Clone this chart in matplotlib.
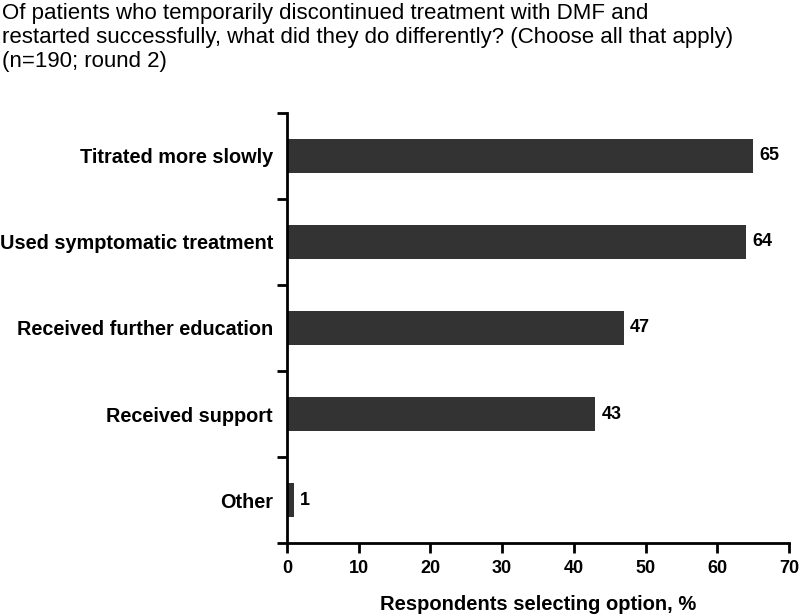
import matplotlib
matplotlib.use("Agg")
import matplotlib.pyplot as plt
import numpy as np

plt.rcParams['font.family'] = ['Liberation Sans', 'DejaVu Sans']

categories = ["Titrated more slowly", "Used symptomatic treatment",
              "Received further education", "Received support", "Other"]
values = [65, 64, 47, 43, 1]
xticks = [0, 10, 20, 30, 40, 50, 60, 70]
title = ("Of patients who temporarily discontinued treatment with DMF and\n"
         "restarted successfully, what did they do differently? (Choose all that apply)\n"
         "(n=190; round 2)")
xlabel = "Respondents selecting option, %"

fig = plt.figure(figsize=(8, 6.14), dpi=100)
ax = fig.add_axes([0.35875, 0.1156, 0.6275, 0.7004])

y = np.arange(len(categories))
ax.barh(y, values, height=0.4, color="#333333", edgecolor="none")
for yi, v in zip(y, values):
    ax.text(v + 0.85, yi, str(v), va="center", ha="left",
            fontsize=13, fontweight="bold", color="black")

ax.set_ylim(len(categories) - 0.5, -0.5)
ax.set_xlim(0, 70)
ax.set_xticks(xticks)
ax.set_xticklabels([str(t) for t in xticks], fontsize=13, fontweight="bold")
ax.set_yticks(y)
ax.set_yticklabels(categories, fontsize=14.3, fontweight="bold")
ax.tick_params(axis="y", which="major", length=0, pad=10)
ax.set_yticks(np.arange(-0.5, len(categories), 1.0), minor=True)
ax.tick_params(axis="y", which="minor", length=7, width=2, direction="out")
ax.tick_params(axis="x", which="major", length=7, width=2, direction="out", pad=5)

for s in ["top", "right"]:
    ax.spines[s].set_visible(False)
for s in ["left", "bottom"]:
    ax.spines[s].set_linewidth(2)

ax.set_xlabel(xlabel, fontsize=14.5, fontweight="bold", labelpad=13)

fig.text(0.003, 0.995, title, ha="left", va="top", fontsize=16,
         linespacing=1.17)

fig.savefig("out.png", dpi=100)
